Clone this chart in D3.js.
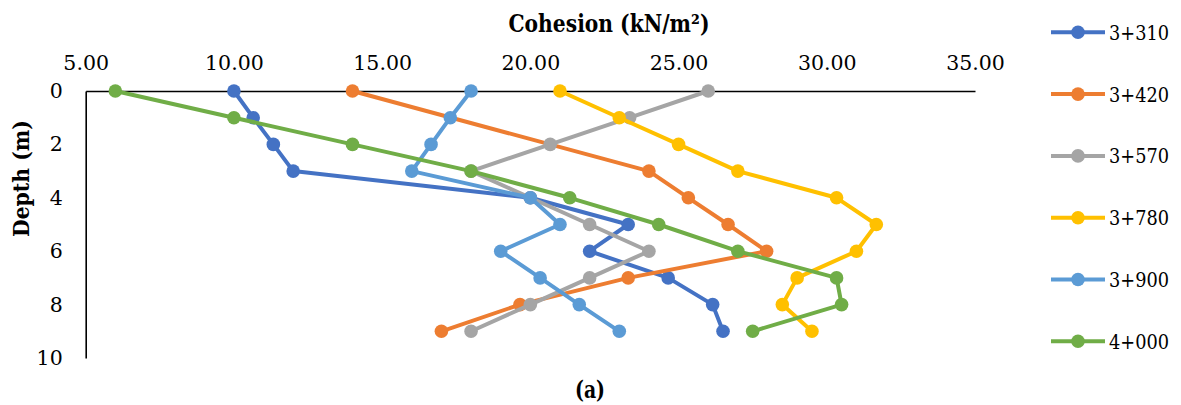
<!DOCTYPE html>
<html>
<head>
<meta charset="utf-8">
<script src="https://cdn.jsdelivr.net/npm/d3@7"></script>
<style>
  html, body { margin: 0; padding: 0; background: #fff; }
  svg { display: block; }
  svg text { font-family: "DejaVu Serif", serif; fill: #000; }
</style>
</head>
<body>
<svg id="chart" width="1181" height="405"></svg>
<script>
// Depth of each sample (m)
const depths = [0, 1, 2, 3, 4, 5, 6, 7, 8, 9];

// Cohesion (kN/m²) per chainage; null = no sample at that depth
const ch3310 = [10.0, 10.65, 11.33, 12.0, 20.0, 23.3, 22.0, 24.65, 26.15, 26.5];
const ch3420 = [14.0, null, null, 24.0, 25.33, 26.67, 27.97, 23.3, 19.65, 17.0];
const ch3570 = [26.0, 23.35, 20.67, 18.0, 20.0, 22.0, 24.0, 22.0, 20.0, 18.0];
const ch3780 = [21.0, 23.0, 25.0, 27.0, 30.33, 31.67, 31.0, 29.0, 28.5, 29.5];
const ch3900 = [18.0, 17.3, 16.65, 16.0, 20.0, 21.0, 19.0, 20.33, 21.65, 23.0];
const ch4000 = [6.0, 10.0, 14.0, 18.0, 21.33, 24.33, 27.0, 30.33, 30.5, 27.5];

const seriesNames = ["3+310", "3+420", "3+570", "3+780", "3+900", "4+000"];
const seriesValues = [ch3310, ch3420, ch3570, ch3780, ch3900, ch4000];
const seriesColors = ["#4472C4", "#ED7D31", "#A5A5A5", "#FFC000", "#5B9BD5", "#70AD47"];

const xTicks = [5, 10, 15, 20, 25, 30, 35];
const yTicks = [0, 2, 4, 6, 8, 10];

const svg = d3.select("#chart");

const x = d3.scaleLinear().domain([5, 35]).range([85.7, 975]);
const y = d3.scaleLinear().domain([0, 10]).range([91, 358]);

// Top (cohesion) axis
const xAxis = svg.append("g")
  .attr("transform", `translate(0,${y(0)})`)
  .call(d3.axisTop(x).tickValues(xTicks).tickSize(0).tickPadding(21)
    .tickFormat(d3.format(".2f")));
xAxis.attr("font-family", null);
xAxis.select(".domain").attr("stroke", "#000").attr("stroke-width", 1.6);
xAxis.selectAll("text")
  .attr("font-size", 20.5)
  .attr("fill", "#000");

// Left (depth) axis
const yAxis = svg.append("g")
  .attr("transform", `translate(${x(5)},0)`)
  .call(d3.axisLeft(y).tickValues(yTicks).tickSize(0).tickPadding(23));
yAxis.attr("font-family", null);
yAxis.select(".domain").attr("stroke", "#000").attr("stroke-width", 1.6);
yAxis.selectAll("text")
  .attr("font-size", 20.5)
  .attr("fill", "#000");

// Axis titles
svg.append("text")
  .attr("x", 609).attr("y", 31.5)
  .attr("text-anchor", "middle")
  .attr("font-size", 23.5).attr("font-weight", "bold")
  .attr("textLength", 201).attr("lengthAdjust", "spacingAndGlyphs")
  .text("Cohesion (kN/m²)");

svg.append("text")
  .attr("transform", "translate(29,178.5) rotate(-90)")
  .attr("text-anchor", "middle")
  .attr("font-size", 23).attr("font-weight", "bold")
  .attr("textLength", 117).attr("lengthAdjust", "spacingAndGlyphs")
  .text("Depth (m)");

svg.append("text")
  .attr("x", 590).attr("y", 398)
  .attr("text-anchor", "middle")
  .attr("font-size", 24).attr("font-weight", "bold")
  .attr("textLength", 30).attr("lengthAdjust", "spacingAndGlyphs")
  .text("(a)");

// Series lines and markers
const line = d3.line().x(d => x(d.v)).y(d => y(d.depth));

seriesValues.forEach((vals, i) => {
  const pts = depths.map((depth, j) => ({ depth, v: vals[j] })).filter(d => d.v != null);
  const g = svg.append("g");
  g.append("path")
    .datum(pts)
    .attr("d", line)
    .attr("fill", "none")
    .attr("stroke", seriesColors[i])
    .attr("stroke-width", 4)
    .attr("stroke-linejoin", "round");
  g.selectAll("circle")
    .data(pts)
    .join("circle")
    .attr("cx", d => x(d.v))
    .attr("cy", d => y(d.depth))
    .attr("r", 6.8)
    .attr("fill", seriesColors[i]);
});

// Legend
const legend = svg.append("g");
seriesNames.forEach((name, i) => {
  const ly = 32.3 + i * 61.8;
  const row = legend.append("g").attr("transform", `translate(0,${ly})`);
  row.append("line")
    .attr("x1", 1051).attr("x2", 1105).attr("y1", 0).attr("y2", 0)
    .attr("stroke", seriesColors[i]).attr("stroke-width", 4);
  row.append("circle")
    .attr("cx", 1078).attr("cy", 0).attr("r", 6.8)
    .attr("fill", seriesColors[i]);
  row.append("text")
    .attr("x", 1109).attr("y", 0).attr("dy", "0.36em")
    .attr("font-size", 21)
    .attr("textLength", 60).attr("lengthAdjust", "spacingAndGlyphs")
    .text(name);
});
</script>
</body>
</html>
